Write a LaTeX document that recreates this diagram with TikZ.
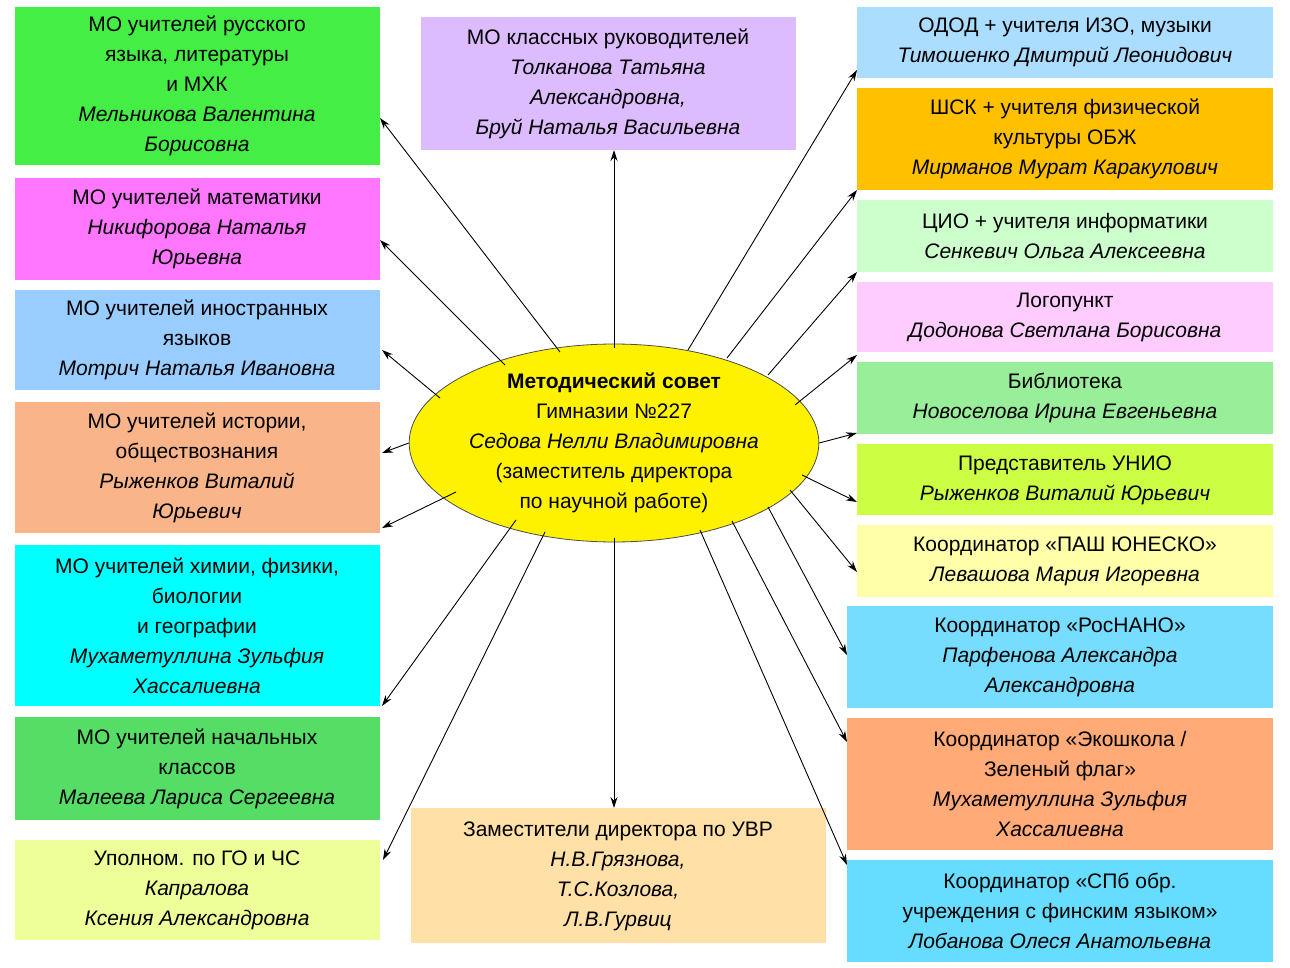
\documentclass[tikz,border=0pt]{standalone}
\usepackage{fontspec}
\setmainfont{Liberation Sans}
\usetikzlibrary{arrows.meta,shapes.geometric}
\definecolor{cA}{HTML}{44EE44}\definecolor{cB}{HTML}{FF77FF}\definecolor{cC}{HTML}{99CCFF}
\definecolor{cD}{HTML}{F9B48A}\definecolor{cE}{HTML}{00FFFF}\definecolor{cF}{HTML}{55DD66}
\definecolor{cG}{HTML}{EEFF99}\definecolor{cH}{HTML}{DDBBFF}\definecolor{cI}{HTML}{FFE0A6}
\definecolor{r1}{HTML}{AADDFF}\definecolor{r2}{HTML}{FFC000}\definecolor{r3}{HTML}{CCFFCC}
\definecolor{r4}{HTML}{FFCCFF}\definecolor{r5}{HTML}{99EE99}\definecolor{r6}{HTML}{CCFF44}
\definecolor{r7}{HTML}{FFFFAA}\definecolor{r8}{HTML}{77DDFF}\definecolor{r9}{HTML}{FFAA77}
\definecolor{r10}{HTML}{66DDFF}
\begin{document}
\begin{tikzpicture}[x=1pt,y=-1pt,
  bx/.style={inner sep=0pt,align=center,font=\fontsize{21}{30}\selectfont},
  ar/.style={-{Stealth[length=11pt,width=7pt]},line width=0.9pt}]
\useasboundingbox[fill=white] (0,0) rectangle (1290,968);
% left boxes
\fill[cA] (15,7) rectangle (380,165); \node[bx] (l1) at (197,86) {МО учителей русского\\языка, литературы\\и МХК\\\textit{Мельникова Валентина}\\\textit{Борисовна}};
\fill[cB] (15,178) rectangle (380,280); \node[bx] (l2) at (197,229) {МО учителей математики\\\textit{Никифорова Наталья}\\\textit{Юрьевна}};
\fill[cC] (15,290) rectangle (380,390); \node[bx] (l3) at (197,340) {МО учителей иностранных\\языков\\\textit{Мотрич Наталья Ивановна}};
\fill[cD] (15,402) rectangle (380,533); \node[bx] (l4) at (197,468) {МО учителей истории,\\обществознания\\\textit{Рыженков Виталий}\\\textit{Юрьевич}};
\fill[cE] (15,545) rectangle (380,706); \node[bx] (l5) at (197,626) {МО учителей химии, физики,\\биологии\\и географии\\\textit{Мухаметуллина Зульфия}\\\textit{Хассалиевна}};
\fill[cF] (15,717) rectangle (380,820); \node[bx] (l6) at (197,769) {МО учителей начальных\\классов\\\textit{Малеева Лариса Сергеевна}};
\fill[cG] (15,840) rectangle (380,940); \node[bx] (l7) at (197,890) {Уполном. по ГО и ЧС\\\textit{Капралова}\\\textit{Ксения Александровна}};
% middle
\fill[cH] (421,17) rectangle (796,150); \node[bx] (t) at (608,84) {МО классных руководителей\\\textit{Толканова Татьяна}\\\textit{Александровна,}\\\textit{Бруй Наталья Васильевна}};
\fill[cI] (411,808) rectangle (826,943); \node[bx] (b) at (618,876) {Заместители директора по УВР\\\textit{Н.В.Грязнова,}\\\textit{Т.С.Козлова,}\\\textit{Л.В.Гурвиц}};
% right
\fill[r1] (857,7) rectangle (1273,78); \node[bx] (q1) at (1065,42) {ОДОД + учителя ИЗО, музыки\\\textit{Тимошенко Дмитрий Леонидович}};
\fill[r2] (857,88) rectangle (1273,190); \node[bx] (q2) at (1065,139) {ШСК + учителя физической\\культуры ОБЖ\\\textit{Мирманов Мурат Каракулович}};
\fill[r3] (857,200) rectangle (1273,272); \node[bx] (q3) at (1065,236) {ЦИО + учителя информатики\\\textit{Сенкевич Ольга Алексеевна}};
\fill[r4] (857,282) rectangle (1273,352); \node[bx] (q4) at (1065,317) {Логопункт\\\textit{Додонова Светлана Борисовна}};
\fill[r5] (857,362) rectangle (1273,434); \node[bx] (q5) at (1065,398) {Библиотека\\\textit{Новоселова Ирина Евгеньевна}};
\fill[r6] (857,444) rectangle (1273,515); \node[bx] (q6) at (1065,480) {Представитель УНИО\\\textit{Рыженков Виталий Юрьевич}};
\fill[r7] (857,525) rectangle (1273,597); \node[bx] (q7) at (1065,561) {Координатор «ПАШ ЮНЕСКО»\\\textit{Левашова Мария Игоревна}};
\fill[r8] (847,606) rectangle (1273,708); \node[bx] (q8) at (1060,657) {Координатор «РосНАНО»\\\textit{Парфенова Александра}\\\textit{Александровна}};
\fill[r9] (847,718) rectangle (1273,850); \node[bx] (q9) at (1060,784) {Координатор «Экошкола /\\Зеленый флаг»\\\textit{Мухаметуллина Зульфия}\\\textit{Хассалиевна}};
\fill[r10] (847,860) rectangle (1273,962); \node[bx] (q10) at (1060,911) {Координатор «СПб обр.\\учреждения с финским языком»\\\textit{Лобанова Олеся Анатольевна}};
% center
\node[ellipse,draw=black!70,line width=0.8pt,fill=yellow,minimum width=390pt,minimum height=190pt,bx] (c) at (614,443)
 {\textbf{Методический совет}\\Гимназии №227\\\textit{Седова Нелли Владимировна}\\(заместитель директора\\по научной работе)};
% arrow end points
\coordinate (e1) at (380,118); \coordinate (e2) at (380,240); \coordinate (e3) at (382,350);
\coordinate (e4) at (382,453); \coordinate (e5) at (382,528); \coordinate (e6) at (382,706); \coordinate (e7) at (383,860);
\coordinate (et) at (614,150); \coordinate (eb) at (614,808);
\coordinate (f1) at (857,70); \coordinate (f2) at (857,190); \coordinate (f3) at (857,272); \coordinate (f4) at (857,355);
\coordinate (f5) at (857,433); \coordinate (f6) at (857,502); \coordinate (f7) at (857,572); \coordinate (f8) at (847,655);
\coordinate (f9) at (847,742); \coordinate (f10) at (847,865);
\coordinate (s1) at (560,352); \coordinate (s2) at (505,365); \coordinate (s3) at (440,398);
\coordinate (s5) at (456,492); \coordinate (s6) at (516,520); \coordinate (s7) at (545,532);
\coordinate (st) at (614,348); \coordinate (sb) at (614,538);
\coordinate (u1) at (688,350); \coordinate (u2) at (727,358); \coordinate (u3) at (768,375); \coordinate (u4) at (795,405);
\coordinate (u6) at (802,475); \coordinate (u7) at (790,490); \coordinate (u8) at (768,507);
\coordinate (u9) at (732,521); \coordinate (u10) at (700,530);
\foreach \s/\e in {s1/e1,s2/e2,s3/e3,s5/e5,s6/e6,s7/e7,st/et,sb/eb,u1/f1,u2/f2,u3/f3,u4/f4,u6/f6,u7/f7,u8/f8,u9/f9,u10/f10}
  \draw[ar] (\s) -- (\e);
\draw[ar] (c.west) -- (e4);
\draw[ar] (c.east) -- (f5);
\end{tikzpicture}
\end{document}
